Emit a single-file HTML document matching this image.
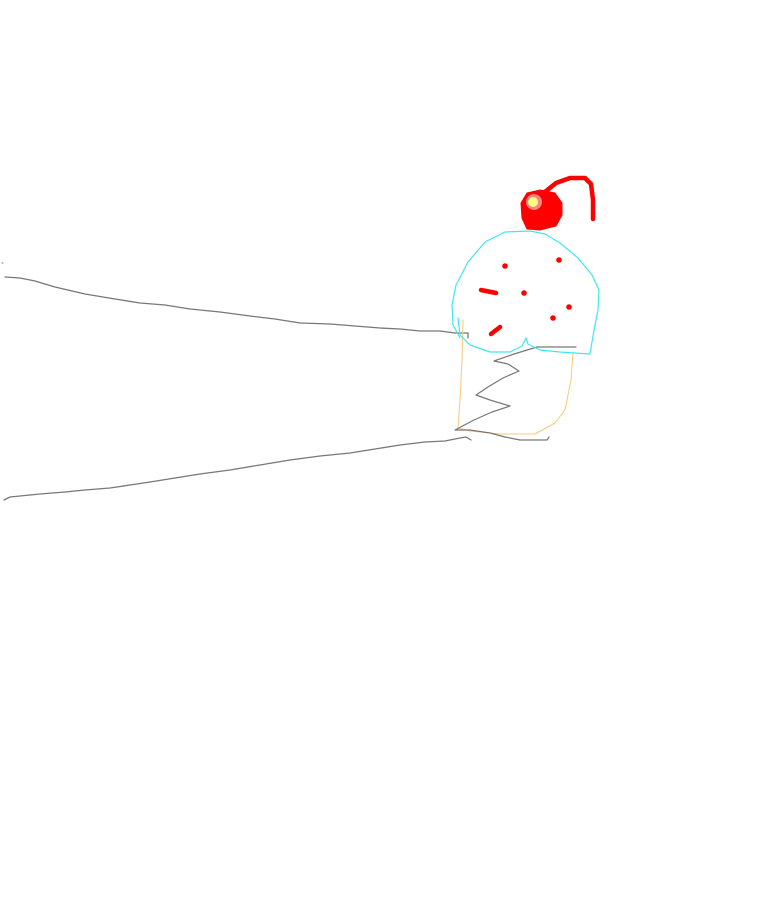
<!DOCTYPE html>
<html><head><style>html,body{margin:0;padding:0;background:#fff;}svg{display:block}</style></head>
<body>
<svg width="768" height="916" viewBox="0 0 768 916" xmlns="http://www.w3.org/2000/svg" fill="none" stroke-linecap="round" stroke-linejoin="round">
<!-- arm upper line -->
<path d="M5,277 L20,278 L35,281 L55,287 L85,294 L115,299 L140,303 L165,305 L190,309 L220,312 L250,316 L275,319 L300,323 L330,324 L355,326 L380,328 L400,329 L420,331 L440,331 L455,333 L468,333 L468,338" stroke="#777" stroke-width="1.3"/>
<!-- arm lower line -->
<path d="M4,500 L10,497 L20,496 L40,494 L65,492 L85,490 L110,488 L130,485 L150,482 L175,478 L200,474 L230,470 L260,465 L290,460 L320,456 L350,453 L375,449 L400,445 L425,442 L445,441 L460,438 L466,437 L471,440" stroke="#777" stroke-width="1.3"/>
<!-- cone -->
<path d="M463,320 L462,360 L460,400 L458,428 L470,431 L500,434 L535,434 L555,423 L565,410 L571,380 L573,352" stroke="#f8c878" stroke-width="1"/>
<!-- zigzag wrapper -->
<path d="M576,347 L537,347 L514,354 L494,361 L508,364 L519,371 L503,378 L488,387 L476,395 L490,400 L510,406 L492,412 L474,420 L455,430 L470,430 L490,433 L505,437 L520,440 L547,440 L549,437" stroke="#777" stroke-width="1.2"/>
<!-- frosting -->
<path d="M458,318 L460,335 L470,345 L490,352 L510,352 L522,346 L526,338 L528,344 L540,350 L560,352 L590,354 L594,330 L598,310 L599,290 L592,275 L578,258 L560,243 L545,234 L530,231 L505,232 L485,242 L468,262 L456,285 L452,305 L453,325 L460,338" stroke="#3ee8f0" stroke-width="1.2"/>
<!-- sprinkles -->
<g fill="#f00">
<circle cx="505" cy="266" r="2.8"/><circle cx="559" cy="260" r="2.8"/><circle cx="524" cy="293" r="2.8"/>
<circle cx="569" cy="307" r="2.8"/><circle cx="553" cy="318" r="2.8"/>
</g>
<path d="M481,290 L496,293" stroke="#f00" stroke-width="4.5"/>
<path d="M491,334 L500,327" stroke="#f00" stroke-width="4.5"/>
<!-- cherry -->
<path d="M540,196 L556,183 L570,178 L585,178 L591,184 L593,200 L593,219" stroke="#f00" stroke-width="4.5"/>
<path d="M527,193 L540,190 L555,193 L562,203 L562,215 L556,226 L540,230 L527,229 L522,218 L521,203 Z" fill="#f00" stroke="#f00" stroke-width="1"/>
<circle cx="534" cy="202" r="8" fill="#ff8080"/>
<circle cx="533" cy="202" r="5" fill="#ffff80"/>
<path d="M2,263 L3,263" stroke="#777" stroke-width="1"/>
</svg>
</body></html>
